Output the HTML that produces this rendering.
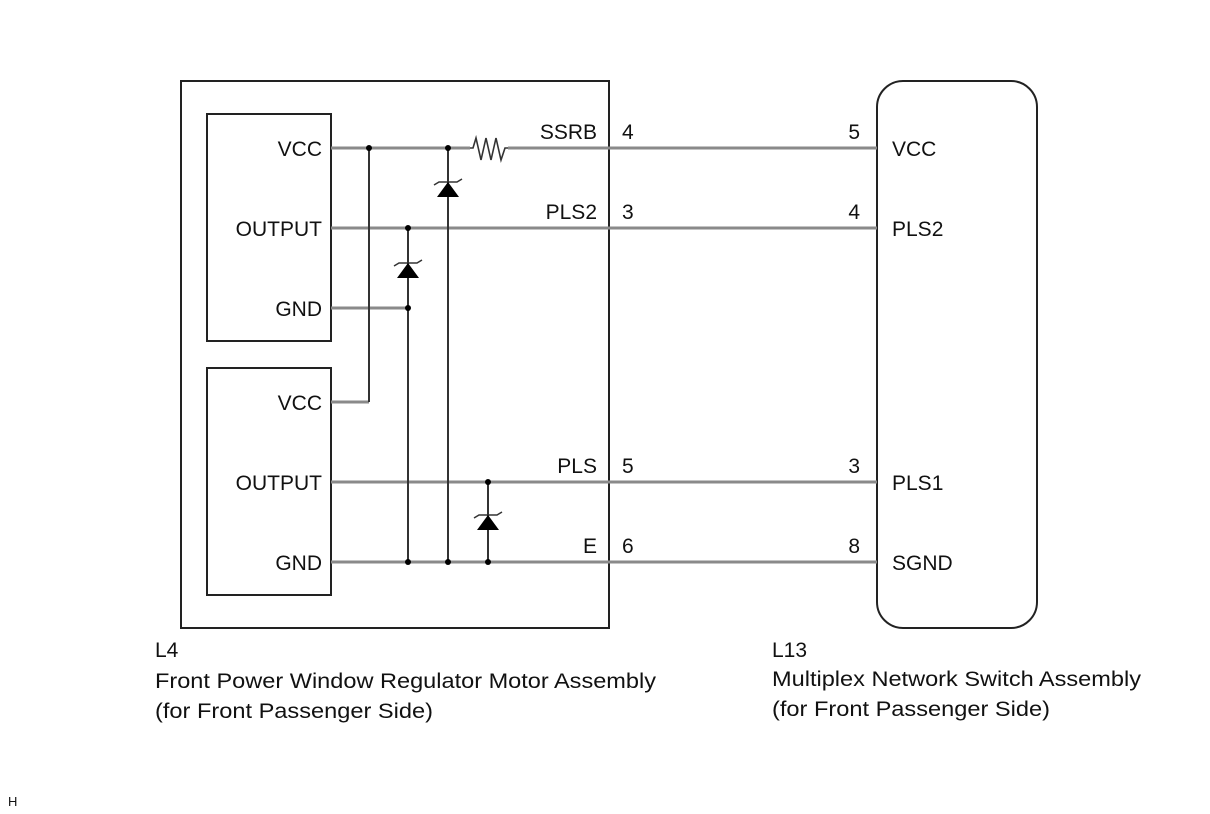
<!DOCTYPE html>
<html><head><style>body{margin:0;background:#fff}svg{display:block}</style></head>
<body>
<svg width="1210" height="814" viewBox="0 0 1210 814" xmlns="http://www.w3.org/2000/svg" font-family="Liberation Sans, Arial, sans-serif" font-size="21" fill="#111">
<g fill="none" stroke="#222" stroke-width="2">
<rect x="181" y="81" width="428" height="547"/>
<rect x="207" y="114" width="124" height="227"/>
<rect x="207" y="368" width="124" height="227"/>
<rect x="877" y="81" width="160" height="547" rx="26"/>
</g>
<g stroke="#8a8a8a" stroke-width="3" fill="none">
<line x1="331" y1="148" x2="470" y2="148"/>
<line x1="508" y1="148" x2="877" y2="148"/>
<line x1="331" y1="228" x2="877" y2="228"/>
<line x1="331" y1="308" x2="408" y2="308"/>
<line x1="331" y1="402" x2="369" y2="402"/>
<line x1="331" y1="482" x2="877" y2="482"/>
<line x1="331" y1="562" x2="877" y2="562"/>
</g>
<g stroke="#333" stroke-width="2" fill="none">
<line x1="369" y1="148" x2="369" y2="402"/>
<line x1="408" y1="228" x2="408" y2="562"/>
<line x1="448" y1="148" x2="448" y2="562"/>
<line x1="488" y1="482" x2="488" y2="562"/>
<polyline points="470,148 473,148 476,138 481,160 486,138 491,160 496,138 501,160 505,148 508,148" stroke-width="1.6"/>
<path d="M434,185 l5,-3 h18 l5,-3" stroke-width="1.5"/>
<path d="M394,266 l5,-3 h18 l5,-3" stroke-width="1.5"/>
<path d="M474,518 l5,-3 h18 l5,-3" stroke-width="1.5"/>
</g>
<g fill="#000">
<polygon points="448,182 437,197 459,197"/>
<polygon points="408,263 397,278 419,278"/>
<polygon points="488,515 477,530 499,530"/>
<circle cx="369" cy="148" r="3"/><circle cx="448" cy="148" r="3"/>
<circle cx="408" cy="228" r="3"/><circle cx="408" cy="308" r="3"/>
<circle cx="488" cy="482" r="3"/>
<circle cx="408" cy="562" r="3"/><circle cx="448" cy="562" r="3"/><circle cx="488" cy="562" r="3"/>
</g>
<g text-anchor="end">
<text x="322" y="156">VCC</text>
<text x="322" y="236">OUTPUT</text>
<text x="322" y="316">GND</text>
<text x="322" y="410">VCC</text>
<text x="322" y="490">OUTPUT</text>
<text x="322" y="570">GND</text>
<text x="597" y="139">SSRB</text>
<text x="597" y="219">PLS2</text>
<text x="597" y="473">PLS</text>
<text x="597" y="553">E</text>
<text x="860" y="139">5</text>
<text x="860" y="219">4</text>
<text x="860" y="473">3</text>
<text x="860" y="553">8</text>
</g>
<text x="622" y="139">4</text>
<text x="622" y="219">3</text>
<text x="622" y="473">5</text>
<text x="622" y="553">6</text>
<text x="892" y="156">VCC</text>
<text x="892" y="236">PLS2</text>
<text x="892" y="490">PLS1</text>
<text x="892" y="570">SGND</text>
<text x="155" y="657">L4</text>
<text x="155" y="688" textLength="501" lengthAdjust="spacingAndGlyphs">Front Power Window Regulator Motor Assembly</text>
<text x="155" y="718" textLength="278" lengthAdjust="spacingAndGlyphs">(for Front Passenger Side)</text>
<text x="772" y="657">L13</text>
<text x="772" y="686" textLength="369" lengthAdjust="spacingAndGlyphs">Multiplex Network Switch Assembly</text>
<text x="772" y="716" textLength="278" lengthAdjust="spacingAndGlyphs">(for Front Passenger Side)</text>
<text x="8" y="806" font-size="13">H</text>
</svg>
</body></html>
